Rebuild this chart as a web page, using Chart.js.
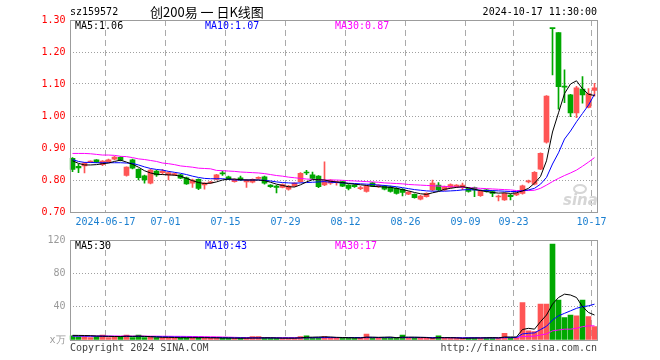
<!DOCTYPE html>
<html>
<head>
<meta charset="utf-8">
<script src="https://cdn.jsdelivr.net/npm/chart.js@4.4.1/dist/chart.umd.min.js"></script>
<style>
html, body { margin: 0; padding: 0; background: #fff; }
#wrap { position: relative; width: 660px; height: 360px; }
canvas { position: absolute; left: 0; top: 0; }
</style>
</head>
<body>
<div id="wrap">
  <canvas id="kline" width="660" height="360"></canvas>
  <canvas id="vol" width="660" height="360"></canvas>
</div>
<script>
// trading days shown on the chart
const dates = [
  '2024-06-06','2024-06-07','2024-06-11','2024-06-12','2024-06-13','2024-06-14','2024-06-17','2024-06-18','2024-06-19','2024-06-20',
  '2024-06-21','2024-06-24','2024-06-25','2024-06-26','2024-06-27','2024-06-28','2024-07-01','2024-07-02','2024-07-03','2024-07-04',
  '2024-07-05','2024-07-08','2024-07-09','2024-07-10','2024-07-11','2024-07-12','2024-07-15','2024-07-16','2024-07-17','2024-07-18',
  '2024-07-19','2024-07-22','2024-07-23','2024-07-24','2024-07-25','2024-07-26','2024-07-29','2024-07-30','2024-07-31','2024-08-01',
  '2024-08-02','2024-08-05','2024-08-06','2024-08-07','2024-08-08','2024-08-09','2024-08-12','2024-08-13','2024-08-14','2024-08-15',
  '2024-08-16','2024-08-19','2024-08-20','2024-08-21','2024-08-22','2024-08-23','2024-08-26','2024-08-27','2024-08-28','2024-08-29',
  '2024-08-30','2024-09-02','2024-09-03','2024-09-04','2024-09-05','2024-09-06','2024-09-09','2024-09-10','2024-09-11','2024-09-12',
  '2024-09-13','2024-09-18','2024-09-19','2024-09-20','2024-09-23','2024-09-24','2024-09-25','2024-09-26','2024-09-27','2024-09-30',
  '2024-10-08','2024-10-09','2024-10-10','2024-10-11','2024-10-14','2024-10-15','2024-10-16','2024-10-17'
];

const opens = [
  .868,.843,.844,.856,.863,.848,.857,.865,.871,.814,
  .863,.833,.813,.790,.828,.823,.816,.816,.816,.807,
  .790,.802,.785,.791,.802,.821,.810,.795,.807,.794,
  .793,.805,.810,.784,.781,.777,.771,.781,.795,.824,
  .816,.812,.785,.790,.792,.795,.784,.784,.773,.764,
  .791,.779,.781,.779,.774,.771,.756,.755,.740,.748,
  .769,.784,.769,.777,.779,.779,.774,.776,.751,.769,
  .764,.747,.738,.753,.753,.758,.794,.787,.834,.918,
  1.274,1.261,1.092,1.066,1.010,1.084,1.027,1.080
];
const highs = [
  .870,.850,.855,.860,.864,.861,.865,.874,.873,.841,
  .865,.835,.815,.833,.830,.833,.826,.822,.818,.809,
  .803,.804,.792,.796,.818,.828,.812,.804,.812,.802,
  .804,.810,.812,.786,.783,.788,.783,.792,.823,.830,
  .825,.814,.857,.801,.796,.797,.786,.786,.780,.783,
  .793,.786,.783,.781,.776,.773,.764,.757,.752,.760,
  .800,.792,.781,.788,.786,.790,.776,.778,.769,.771,
  .766,.753,.760,.755,.760,.784,.800,.826,.885,1.064,
  1.274,1.261,1.144,1.068,1.093,1.123,1.086,1.102
];
const lows = [
  .826,.823,.822,.854,.854,.845,.855,.863,.860,.812,
  .835,.800,.790,.788,.811,.818,.800,.814,.804,.786,
  .777,.770,.771,.789,.800,.814,.801,.793,.798,.777,
  .791,.803,.787,.777,.760,.775,.768,.779,.793,.817,
  .803,.776,.782,.786,.784,.779,.769,.777,.770,.762,
  .779,.777,.769,.762,.756,.750,.754,.743,.738,.746,
  .767,.767,.767,.775,.777,.770,.762,.748,.749,.762,
  .748,.735,.736,.738,.751,.756,.791,.785,.832,.915,
  1.128,1.021,1.042,.998,.995,1.040,1.025,1.062
];
const closes = [
  .833,.838,.853,.858,.856,.859,.863,.872,.862,.840,
  .837,.807,.800,.831,.816,.828,.823,.820,.806,.788,
  .800,.774,.790,.794,.816,.819,.803,.802,.800,.800,
  .802,.808,.790,.779,.777,.786,.781,.790,.821,.822,
  .805,.779,.795,.800,.795,.781,.774,.779,.776,.781,
  .781,.784,.771,.764,.758,.761,.762,.745,.750,.758,
  .790,.769,.779,.786,.784,.784,.764,.769,.767,.764,
  .758,.749,.758,.748,.758,.782,.797,.824,.883,1.062,
  1.273,1.092,1.090,1.010,1.088,1.066,1.070,1.088
];

const ma5 = [
  .860,.852,.847,.847,.848,.851,.853,.858,.862,.856,
  .849,.840,.829,.822,.818,.817,.816,.815,.812,.805,
  .798,.792,.789,.790,.794,.800,.803,.803,.801,.800,
  .800,.800,.798,.793,.787,.783,.779,.778,.785,.794,
  .801,.801,.800,.796,.794,.792,.789,.787,.785,.783,
  .780,.779,.778,.777,.774,.770,.766,.761,.757,.755,
  .760,.764,.771,.774,.777,.779,.776,.771,.767,.764,
  .761,.759,.760,.758,.760,.766,.774,.790,.811,.860,
  .950,1.010,1.070,1.100,1.110,1.085,1.068,1.064
];
const ma10 = [
  .864,.858,.855,.855,.854,.854,.854,.854,.854,.853,
  .852,.847,.841,.836,.833,.831,.827,.824,.821,.817,
  .812,.808,.805,.804,.804,.804,.802,.800,.800,.800,
  .800,.800,.799,.797,.794,.792,.791,.790,.791,.792,
  .793,.794,.795,.793,.792,.791,.790,.789,.788,.787,
  .786,.784,.783,.781,.779,.776,.773,.770,.768,.766,
  .765,.765,.765,.766,.767,.769,.770,.769,.768,.767,
  .767,.766,.765,.764,.764,.766,.769,.774,.787,.808,
  .850,.885,.928,.953,.982,1.008,1.034,1.068
];
const ma30 = [
  .883,.883,.883,.882,.880,.878,.878,.877,.874,.873,
  .870,.866,.864,.861,.858,.853,.851,.848,.844,.842,
  .840,.837,.836,.835,.830,.829,.828,.827,.825,.824,
  .823,.822,.820,.817,.814,.812,.809,.807,.805,.803,
  .802,.801,.800,.800,.800,.799,.798,.797,.796,.795,
  .794,.793,.791,.790,.789,.788,.786,.785,.784,.783,
  .782,.781,.780,.779,.778,.777,.776,.775,.774,.773,
  .772,.771,.770,.769,.767,.767,.767,.768,.774,.784,
  .795,.805,.814,.822,.831,.843,.856,.870
];

// volume in 万 (10k)
const volumes = [
  5,4,4,3,4,6,3,4,4,6,
  3,6,3,4,3,3,3,2,3,3,
  3,3,2,2,3,2,2,2,2,2,
  4,4,3,2,2,2,2,2,4,5,
  3,3,4,3,2,3,3,2,2,7,
  3,2,3,3,3,6,2,3,2,2,
  3,5,2,2,2,2,3,3,2,3,
  3,2,8,3,3,45,11,10,43,43,
  115,48,27,30,29,48,28,16
];
const volMa5 = [
  5.6,5.5,5.4,5.2,4.8,4.6,4.4,4.2,4.2,4.6,
  4.4,4.6,4.4,4.0,3.6,3.2,3.2,3.0,2.8,2.8,
  2.8,2.8,2.8,2.6,2.6,2.4,2.4,2.2,2.2,2.2,
  2.4,2.4,2.6,2.6,2.4,2.2,2.2,2.2,2.6,3.2,
  3.4,3.6,3.8,3.6,3.2,3.0,2.8,2.6,2.4,3.4,
  3.4,3.2,3.4,3.6,2.8,3.4,3.4,3.4,3.2,3.0,
  2.2,2.8,2.8,2.8,2.6,2.0,2.2,2.4,2.4,2.6,
  2.8,2.6,3.6,3.6,3.6,12.6,14.0,13.0,22,30,
  43,51,55,54,51,40,33,30
];
const volMa10 = [
  4.8,4.8,4.7,4.6,4.5,4.5,4.4,4.3,4.2,4.3,
  4.2,4.3,4.2,4.1,4.0,3.8,3.7,3.6,3.5,3.4,
  3.3,3.2,3.1,3.0,2.9,2.8,2.7,2.6,2.6,2.5,
  2.5,2.5,2.5,2.5,2.5,2.4,2.4,2.4,2.5,2.7,
  2.8,2.9,3.0,3.1,3.0,3.0,3.0,3.0,3.0,3.2,
  3.1,3.0,3.0,3.0,3.0,3.1,3.1,3.1,3.1,3.1,
  2.8,2.9,2.9,2.8,2.7,2.6,2.6,2.6,2.6,2.6,
  2.6,2.5,3.0,3.0,3.1,7.3,8.1,8.5,12.5,16.5,
  24,29,32,35,38,40,41,43
];
const volMa30 = [
  4.8,4.8,4.8,4.8,4.8,4.8,4.8,4.8,4.8,4.8,
  4.7,4.7,4.7,4.6,4.6,4.5,4.5,4.4,4.4,4.3,
  4.2,4.1,4.0,3.9,3.8,3.6,3.4,3.2,3.0,3.0,
  2.9,2.9,2.9,2.9,2.8,2.8,2.8,2.8,2.8,2.8,
  2.8,2.8,2.8,2.8,2.8,2.8,2.8,2.8,2.8,2.8,
  2.8,2.8,2.8,2.8,2.8,2.8,2.8,2.8,2.8,2.8,
  2.8,2.8,2.8,2.8,2.8,2.7,2.7,2.7,2.7,2.7,
  2.7,2.7,2.8,2.8,2.8,4.2,4.5,4.6,6.0,7.3,
  11,12,13,13,14,16,17,17
];

const xTickDates = ['2024-06-17','2024-07-01','2024-07-15','2024-07-29','2024-08-12','2024-08-26','2024-09-09','2024-09-23','2024-10-17'];
const xTickText  = ['2024-06-17','07-01','07-15','07-29','08-12','08-26','09-09','09-23','10-17'];
const priceTicks = [0.70, 0.80, 0.90, 1.00, 1.10, 1.20, 1.30];
const volTicks = [0, 40, 80, 120];

const RED = '#ff5555';
const GREEN = '#00a800';
const MONO = '"DejaVu Sans Mono", "Liberation Mono", monospace';

Chart.defaults.font.family = MONO;
Chart.defaults.font.size = 10;

const tickIdx = xTickDates.map(d => dates.indexOf(d));
const upColor = opens.map((o, i) => closes[i] >= o ? RED : GREEN);

function xAxis(showLabels) {
    return {
        type: 'category',
        offset: true,
        grid: {
            offset: true,
            drawTicks: false,
            lineWidth: 1,
            color: ctx => (ctx.tick && tickIdx.includes(ctx.index)) ? '#aaaaaa' : 'rgba(0,0,0,0)'
        },
        border: { display: false, dash: [6, 4] },
        ticks: {
            display: showLabels,
            autoSkip: false,
            maxRotation: 0,
            padding: 4,
            labelOffset: -3,
            color: '#1a7fd0',
            callback: (v, i) => {
                const k = tickIdx.indexOf(i);
                return k >= 0 ? xTickText[k] : '';
            }
        },
        afterFit: s => { s.height = showLabels ? 20 : 0; }
    };
}

function lineSet(data, color) {
    return {
        type: 'line', data: data, borderColor: color, borderWidth: 1,
        pointRadius: 0, tension: 0, fill: false, order: 0
    };
}

// frame and header text
function framePlugin(drawText) {
    return {
        id: 'frame',
        beforeDatasetsDraw(chart) {
            if (drawText.watermark) drawText.watermark(chart.ctx, chart.chartArea);
        },
        afterDraw(chart) {
            const ctx = chart.ctx;
            const a = chart.chartArea;
            ctx.save();
            ctx.strokeStyle = '#9c9c9c';
            ctx.lineWidth = 1;
            const x0 = Math.ceil(a.left) + 0.5, x1 = Math.floor(a.right) + 0.5;
            const y0 = Math.round(a.top) + 0.5, y1 = Math.round(a.bottom) + 0.5;
            ctx.strokeRect(x0, y0, x1 - x0, y1 - y0);
            drawText.text(ctx, a);
            ctx.restore();
        }
    };
}

new Chart(document.getElementById('kline'), {
    type: 'bar',
    data: {
        labels: dates,
        datasets: [
            lineSet(ma5, '#000000'),
            lineSet(ma10, '#0000ff'),
            lineSet(ma30, '#ff00ff'),
            {
                data: opens.map((o, i) => [o, closes[i]]),
                backgroundColor: upColor,
                barThickness: 5, grouped: false, minBarLength: 1, order: 1
            },
            {
                data: lows.map((l, i) => [l, highs[i]]),
                backgroundColor: upColor,
                barThickness: 1, grouped: false, minBarLength: 1, order: 2
            }
        ]
    },
    options: {
        responsive: false,
        animation: false,
        events: [],
        devicePixelRatio: 1,
        layout: { padding: { left: 0, right: 62.5, top: 20, bottom: 128 } },
        plugins: { legend: { display: false }, tooltip: { enabled: false } },
        scales: {
            x: xAxis(true),
            y: {
                min: 0.7, max: 1.3,
                afterBuildTicks: s => { s.ticks = priceTicks.map(v => ({ value: v })); },
                afterFit: s => { s.width = 69.5; },
                grid: {
                    drawTicks: false,
                    color: ctx => (ctx.tick && ctx.tick.value > 0.71 && ctx.tick.value < 1.29) ? '#a0a0a0' : 'rgba(0,0,0,0)'
                },
                border: { display: false, dash: [1, 2] },
                ticks: { color: '#ff0000', padding: 4, callback: v => v.toFixed(2) }
            }
        }
    },
    plugins: [framePlugin({
        watermark(ctx, a) {
            ctx.save();
            ctx.fillStyle = '#d6d6d6';
            ctx.strokeStyle = '#d6d6d6';
            ctx.lineWidth = 2;
            ctx.beginPath();
            ctx.ellipse(580, 189, 6, 4, 0, 0, Math.PI * 2);
            ctx.stroke();
            ctx.font = 'italic bold 15px "DejaVu Sans"';
            ctx.textAlign = 'left';
            ctx.textBaseline = 'alphabetic';
            ctx.fillText('sina', 563, 205);
            ctx.restore();
        },
        text(ctx, a) {
            ctx.textBaseline = 'middle';
            ctx.textAlign = 'left';
            ctx.font = '10px ' + MONO;
            ctx.fillStyle = '#000';
            ctx.fillText('sz159572', 70, 12.5);
            ctx.font = '13px "Noto Sans CJK SC"';
            ctx.fillText('创200易 一 日K线图', 150, 12);
            ctx.font = '10px ' + MONO;
            ctx.textAlign = 'right';
            ctx.fillText('2024-10-17 11:30:00', 597, 12.5);
            ctx.textAlign = 'left';
            const n = closes.length - 1;
            ctx.fillStyle = '#000';
            ctx.fillText('MA5:' + ma5[n].toFixed(2), 75, 26.5);
            ctx.fillStyle = '#0000ff';
            ctx.fillText('MA10:' + ma10[n].toFixed(2), 205, 26.5);
            ctx.fillStyle = '#ff00ff';
            ctx.fillText('MA30:' + ma30[n].toFixed(2), 335, 26.5);
        }
    })]
});

new Chart(document.getElementById('vol'), {
    type: 'bar',
    data: {
        labels: dates,
        datasets: [
            lineSet(volMa5, '#000000'),
            lineSet(volMa10, '#0000ff'),
            lineSet(volMa30, '#ff00ff'),
            {
                data: volumes,
                backgroundColor: upColor,
                barThickness: 5, grouped: false, order: 1
            }
        ]
    },
    options: {
        responsive: false,
        animation: false,
        events: [],
        devicePixelRatio: 1,
        layout: { padding: { left: 0, right: 62.5, top: 240, bottom: 20 } },
        plugins: { legend: { display: false }, tooltip: { enabled: false } },
        scales: {
            x: xAxis(false),
            y: {
                min: 0, max: 120,
                afterBuildTicks: s => { s.ticks = volTicks.map(v => ({ value: v })); },
                afterFit: s => { s.width = 69.5; },
                grid: {
                    drawTicks: false,
                    color: ctx => (ctx.tick && ctx.tick.value > 0 && ctx.tick.value < 120) ? '#a0a0a0' : 'rgba(0,0,0,0)'
                },
                border: { display: false, dash: [1, 2] },
                ticks: { color: '#9a9a9a', padding: 4, callback: v => v === 0 ? 'x万' : v }
            }
        }
    },
    plugins: [framePlugin({
        text(ctx, a) {
            ctx.textBaseline = 'middle';
            ctx.textAlign = 'left';
            ctx.font = '10px ' + MONO;
            const n = volumes.length - 1;
            ctx.fillStyle = '#000';
            ctx.fillText('MA5:' + Math.round(volMa5[n]), 75, 246.5);
            ctx.fillStyle = '#0000ff';
            ctx.fillText('MA10:' + Math.round(volMa10[n]), 205, 246.5);
            ctx.fillStyle = '#ff00ff';
            ctx.fillText('MA30:' + Math.round(volMa30[n]), 335, 246.5);
            ctx.fillStyle = '#444';
            ctx.fillText('Copyright 2024 SINA.COM', 70, 348);
            ctx.textAlign = 'right';
            ctx.fillText('http://finance.sina.com.cn', 597, 348);
        }
    })]
});
</script>
</body>
</html>
